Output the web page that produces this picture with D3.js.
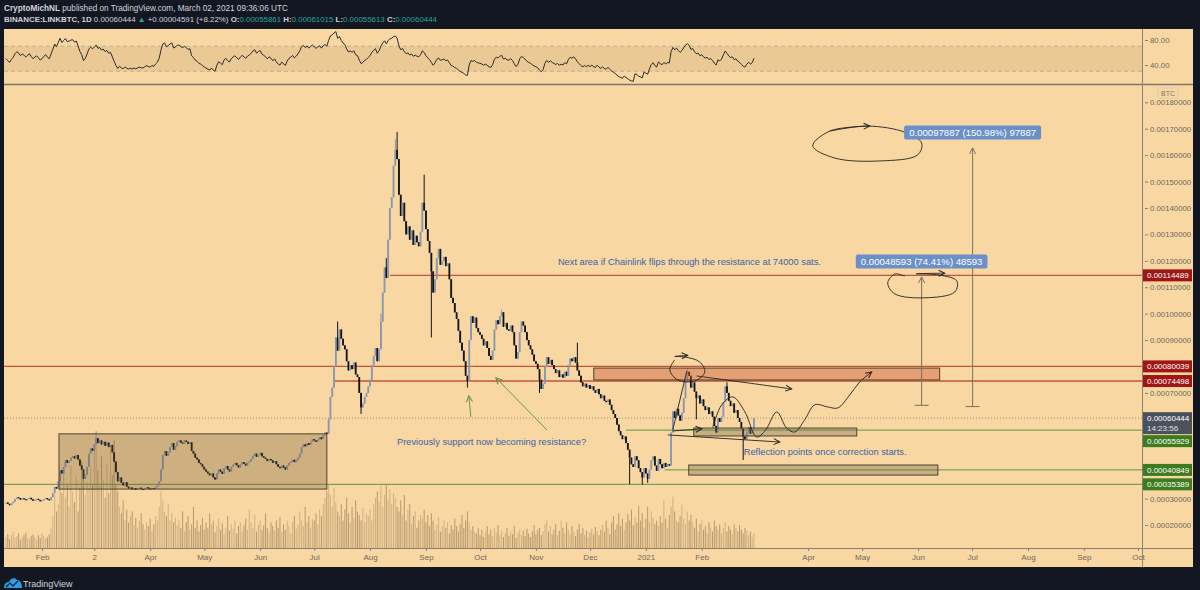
<!DOCTYPE html>
<html>
<head>
<meta charset="utf-8">
<script src="https://cdn.jsdelivr.net/npm/d3@7"></script>
<style>
body { margin: 0; background: #131722; }
svg { display: block; font-family: "Liberation Sans", Arial, sans-serif; }
</style>
</head>
<body>
<svg width="1200" height="590"></svg>
<script>
// LINKBTC daily, 2020-01-12 .. 2021-03-02, prices in k sats (1 = 0.00001 BTC)
var firstDay = "2020-01-12";
var lastDay = "2021-03-02";

var closes = [
  28.5, 28.0, 27.5, 28.2, 28.8, 29.8, 30.5, 30.2, 29.6, 30.1,
  29.8, 29.4, 29.9, 30.3, 29.7, 29.2, 29.6, 29.9, 29.5, 29.0, 29.3, 29.8, 30.2, 29.7, 29.4,
  30.5, 32.0, 34.4, 33.8, 36.5,
  40.8, 39.5, 42.0,
  44.6, 43.5, 44.2, 45.5,
  46.0, 45.2, 46.5, 44.8, 42.5,
  41.0, 37.5, 39.0, 42.0,
  47.0, 49.0, 48.0, 50.5,
  52.9, 51.0, 52.0, 50.5, 51.5, 50.0, 51.2, 49.5, 50.3,
  47.5, 44.0, 40.0, 36.5,
  38.0, 36.0, 35.0, 36.2,
  34.5, 33.8, 34.2, 33.5, 33.9, 33.3, 33.7, 34.1, 33.6, 33.4, 33.9, 34.3, 33.8, 33.5, 34.0, 33.6, 34.4, 35.0,
  36.5, 41.0, 46.5, 48.0, 46.2, 47.5, 49.5,
  51.0, 48.5, 49.8,
  51.5, 52.0, 51.2, 50.8, 52.0, 51.5, 50.7, 51.3,
  48.0, 47.0, 45.5, 44.8, 43.5, 43.0,
  42.0, 41.0, 40.2, 39.5, 38.8, 39.5, 38.0, 37.2,
  39.5, 41.0, 40.2, 39.3, 41.5, 42.3, 41.0, 40.3,
  42.0, 42.8, 43.5, 42.6, 41.8, 42.9, 43.8, 43.2, 42.5, 43.6, 44.0,
  45.0, 46.2, 47.0, 45.8, 46.5, 47.3, 46.0, 45.5, 45.0,
  44.2, 45.0, 44.5, 43.5, 44.2, 43.0, 42.0, 41.5, 42.5, 41.8, 41.0,
  42.5, 43.5, 44.0, 44.7, 43.8, 44.5, 45.5, 47.0,
  49.5, 50.5, 49.8, 51.0, 50.3, 51.5, 52.5, 52.0,
  51.5, 52.3, 53.2, 52.5, 54.0, 55.0, 54.5,
  60.0, 68.5, 72.0, 80.0, 91.0, 86.0,
  94.0, 90.5, 88.0,
  86.5, 82.0, 78.5, 80.5, 79.0,
  81.5, 77.0, 76.0, 70.0, 64.5,
  66.0, 68.5, 70.0, 72.5, 75.0,
  80.5, 84.0, 87.0, 82.0, 86.5,
  97.0, 108.0, 117.5, 113.5,
  128.0, 140.0, 144.0,
  156.0, 162.0, 158.5,
  145.0, 137.0, 142.0,
  135.0, 130.0, 133.0,
  128.0, 131.5, 126.0, 129.5, 127.0, 125.5, 131.0,
  142.0, 139.0,
  132.0, 127.5, 123.0,
  116.0, 108.0, 113.0,
  121.0, 124.5, 118.5,
  120.0, 121.5, 118.0, 119.0,
  113.0, 106.0,
  104.0, 100.5, 98.0,
  93.5, 89.0, 86.0,
  82.0, 76.5, 74.5,
  90.0, 99.0, 96.5,
  98.5, 94.5, 93.0,
  92.0, 90.5, 88.0, 89.5, 87.0,
  84.0, 82.5, 86.0,
  94.0, 97.5, 96.0, 99.0, 100.5,
  95.0, 96.5, 94.0, 93.5, 95.5, 93.0,
  88.0, 83.0, 85.5,
  93.0, 97.0, 95.5, 93.0,
  90.0, 88.0, 86.5, 84.5, 82.0, 81.0,
  79.0, 75.0, 71.5, 73.5, 80.0,
  83.5, 81.0, 82.5, 80.5,
  79.0, 77.5, 78.5, 76.0, 77.0, 75.8, 78.0, 76.5,
  80.5, 83.0, 82.0, 83.5, 81.5, 78.5,
  76.5, 74.0, 72.5, 73.5, 72.0,
  73.0, 71.5, 72.5, 71.0, 70.0, 71.5,
  69.5, 68.0, 69.0, 67.0, 66.5, 67.5, 65.5,
  63.5, 62.0, 60.5, 58.0, 55.5,
  54.0, 52.5, 53.5, 51.0, 48.5, 45.5,
  43.0, 42.0, 46.0, 44.5,
  41.5, 40.0, 38.0, 41.5, 39.5, 37.5,
  41.0, 44.5, 46.0, 42.5, 40.5, 45.0, 43.0,
  41.5, 43.5, 42.0, 43.0, 42.5, 55.0,
  63.0, 60.5, 64.0, 61.5, 59.5, 62.5,
  68.0, 74.5, 78.0,
  76.5, 72.0, 74.0, 70.5, 68.0,
  69.0, 66.0, 67.5, 65.0, 63.5, 64.5, 62.0, 63.0, 61.0,
  57.5, 55.0, 60.5,
  59.0, 61.0, 66.5, 72.5, 70.0,
  67.0, 65.0, 66.0, 62.5, 63.5, 60.5, 59.0,
  56.5, 53.5, 52.5, 55.0,
  57.0, 54.5, 55.861, 60.444
];

// notable wicks [day index, price]
var wickHigh = [[50, 55.5], [184, 97], [208, 100], [211, 121], [216, 166], [217, 168.8], [221, 141],
  [232, 152.6], [275, 101.5], [317, 89], [378, 79.5], [400, 74]];
var wickLow = [[197, 62], [236, 91], [256, 72], [296, 70], [346, 35.4], [353, 35.2], [356, 36],
  [383, 60], [409, 44.6]];

var volumes = [
  12, 15, 10, 14, 18, 11, 13, 16, 9, 12, 14, 17, 11, 10, 13, 15, 12, 9, 14, 11, 16, 13, 10, 12, 15,
  22, 35, 58, 40, 48,
  75, 60, 85, 55, 70, 45, 90, 62, 50, 78, 40, 66, 95, 80, 58, 72,
  65, 88, 70, 110, 120, 85, 68, 100, 75, 55, 92, 60, 112, 80, 118, 70, 62,
  45, 38, 52, 30, 42, 28, 35, 40, 25, 33, 22, 30, 38, 26, 20, 28, 24, 32, 18, 26, 35, 30,
  45, 62, 52, 40, 35, 48, 30, 38, 28, 33,
  25, 30, 22, 40, 18, 28, 35, 20, 26, 45, 22, 30, 18, 25, 33, 20,
  28, 22, 38, 26, 30, 17, 24, 32, 20, 27, 15, 22, 35, 19, 26, 21, 30, 16, 24, 28,
  18, 25, 32, 20, 42, 28, 22, 36, 18, 26, 30, 20, 25, 38, 22, 17, 28, 24, 19, 30,
  22, 34, 18, 26, 20, 30, 24, 16, 28, 35, 21, 26, 40, 30, 24, 45, 28, 35, 22, 32,
  30, 38, 26, 42, 35, 48, 55, 62,
  70, 58, 45, 66, 50, 40, 35, 48, 30, 42, 55, 38, 28, 45, 33, 52, 40, 36, 30, 44, 28, 38, 35, 42, 30, 48, 55, 62, 50, 68, 45, 58,
  70, 52, 64, 48, 60, 55, 45, 40, 52, 36, 58, 30, 42, 48, 26, 35, 40, 22, 30, 36,
  32, 42, 28, 36, 24, 38, 30, 20, 26, 34, 18, 24, 30, 22, 28, 16, 25, 20, 32, 24, 18, 26, 36, 22, 30, 40, 28, 20, 24, 18,
  16, 22, 14, 20, 12, 18, 24, 15, 20, 13, 22, 17, 25, 14, 19, 12, 16, 22, 13, 18, 15, 24, 11, 17, 20, 14, 19, 13, 21, 16, 12, 18, 25, 15, 20, 22, 14, 18, 26, 30,
  18, 24, 15, 20, 26, 14, 19, 30, 22, 16, 28, 20, 15, 24, 18, 13, 20, 26, 16, 22, 14, 19, 12, 17, 21, 15, 23, 18, 14, 20,
  25, 18, 30, 22, 15, 28, 35, 20, 26, 38, 24, 32, 20, 28, 37, 30, 42, 25, 34, 28, 46, 30, 38, 22, 32, 45, 28, 40, 33, 26,
  30, 24, 35, 28, 52, 32, 22, 36, 45, 56, 40, 30, 28, 35, 48, 32, 26, 40, 30, 36,
  28, 22, 32, 18, 26, 30, 20, 24, 16, 28, 22, 18, 30, 24, 20, 26, 16, 22, 28, 18, 24, 20, 15, 26, 22, 18, 25, 20, 16, 22, 19, 14, 18, 12, 16
];

var priceTicks = [0.0002, 0.0003, 0.0004, 0.0005, 0.0006, 0.0007, 0.0008, 0.0009, 0.0010,
  0.0011, 0.0012, 0.0013, 0.0014, 0.0015, 0.0016, 0.0017, 0.0018];
var timeTicks = ["2020-02-01", "2020-03-01", "2020-04-01", "2020-05-01", "2020-06-01", "2020-07-01",
  "2020-08-01", "2020-09-01", "2020-10-01", "2020-11-01", "2020-12-01", "2021-01-01", "2021-02-01",
  "2021-04-01", "2021-05-01", "2021-06-01", "2021-07-01", "2021-08-01", "2021-09-01", "2021-10-01"];
var timeLabels = ["Feb", "2", "Apr", "May", "Jun", "Jul", "Aug", "Sep", "Oct", "Nov", "Dec", "2021", "Feb",
  "Apr", "May", "Jun", "Jul", "Aug", "Sep", "Oct"];
var rsiTicks = [40, 80];

// levels drawn on the chart: price, first day index, kind
var hLevels = [[114.489, 213, "red"], [80.039, -5, "red"], [74.498, 182.5, "red"],
  [55.929, 344, "green"], [40.849, 365.5, "green"], [35.389, -5, "green"]];
var priceTags = [[114.489, "red"], [80.039, "red"], [74.498, "red"], [60.444, "last"],
  [55.929, "green"], [40.849, "green"], [35.389, "green"]];
// zones: day from, day to, price high, price low, kind
var zones = [[29.4, 178, 54.5, 33.6, "brown"], [326.1, 518, 79.4, 74.9, "salmon"],
  [381.6, 472, 56.7, 53.7, "olive"], [378.8, 517, 42.7, 38.9, "olive"]];
// price range measures: day, from, to, label
var measures = [[536.3, 64.834, 162.721, "0.00097887 (150.98%) 97887"],
  [508, 65.305, 113.898, "0.00048593 (74.41%) 48593"]];
var notes = [[306.2, 118.4, "Next area if Chainlink flips through the resistance at 74000 sats."],
  [216.9, 50.3, "Previously support now becoming resistance?"],
  [409.3, 46.5, "Reflection points once correction starts."]];
// hand drawn strokes, [day, price] points
var sketches = [
  {arrow: true, pts: [[457, 169.1], [478.1, 171.0], [498.6, 168.7], [508, 164.6], [505.8, 160.1], [484.7, 157.8], [459.8, 158.9], [447.6, 163.5], [457, 169.1], [479.2, 171.0]]},
  {arrow: true, pts: [[498.6, 114.2], [493.1, 115.0], [489.2, 111.6], [493.1, 107.5], [509.7, 106.0], [526.4, 108.2], [527.5, 112.4], [518, 114.6], [505, 115.1], [520.8, 115.3]]},
  {arrow: true, pts: [[371, 82.5], [368.3, 78.7], [372.7, 74.9], [382.1, 74.5], [387.7, 77.9], [384.9, 81.7], [376.6, 83.6], [371, 83.8], [378.2, 84.2]]},
  {arrow: true, pts: [[383.2, 76.4], [407.1, 74.2], [435.9, 71.5]]},
  {arrow: true, pts: [[392.1, 56.9], [397.1, 65.5], [403.2, 68.5], [409.9, 62.9], [416.5, 53.3], [421.5, 56.0], [427.6, 62.8], [433.1, 56.7], [437.6, 55.2], [443.1, 59.8], [448.7, 65.5], [455.9, 64.7], [461.5, 64.3], [468.1, 69.2], [473.6, 74.1], [480.3, 77.9]]},
  {arrow: true, pts: [[367.2, 54.1], [429.3, 51.4]]},
  {arrow: true, pts: [[369.9, 55.6], [386, 56.4]]},
  {arrow: false, pts: [[369.9, 55.9], [377.7, 78.2]]}
];
var greenArrows = [[[257.9, 60.9], [256.8, 68.9]], [[300.1, 56.0], [271.8, 75.7]]];

var svg = d3.select("svg");
var paneL = 4, paneR = 1193, axisX = 1142;
var rsiTop = 29, rsiBot = 84, mainTop = 85, mainBot = 548, timeBot = 567;
var bg = "#f8d7a2";

svg.append("rect").attr("width", 1200).attr("height", 590).attr("fill", "#131722");
svg.append("rect").attr("x", paneL).attr("y", rsiTop).attr("width", paneR - paneL)
  .attr("height", timeBot - rsiTop).attr("fill", bg);

var parseDay = d3.utcParse("%Y-%m-%d");
var day0 = parseDay(firstDay);
var x = d3.scaleUtc().domain([day0, parseDay(lastDay)]).range([6, 754]);
var nDays = d3.utcDay.count(day0, parseDay(lastDay));
var xi = function(i) { return x(day0) + (x(parseDay(lastDay)) - x(day0)) * i / nDays; };
var y = d3.scaleLinear().domain([0.0002, 0.0018]).range([525, 102.3]);
var yk = function(v) { return y(v * 1e-5); };
var yVol = d3.scaleLinear().domain([0, 140]).range([mainBot, 420]);
var yRsi = d3.scaleLinear().domain([40, 80]).range([65, 40]);

var candles = closes.map(function(c, i) {
  var o = i ? closes[i - 1] : c;
  return {date: d3.utcDay.offset(day0, i), o: o, c: c, h: Math.max(o, c), l: Math.min(o, c), v: volumes[i]};
});
wickHigh.forEach(function(w) { if (candles[w[0]]) candles[w[0]].h = w[1]; });
wickLow.forEach(function(w) { if (candles[w[0]]) candles[w[0]].l = w[1]; });

// RSI 14 (Wilder)
var rsi = [];
(function() {
  var ag = 0.3, al = 0.3;
  closes.forEach(function(c, i) {
    if (i) {
      var ch = c - closes[i - 1];
      ag = (ag * 13 + Math.max(ch, 0)) / 14;
      al = (al * 13 + Math.max(-ch, 0)) / 14;
    }
    rsi.push(100 - 100 / (1 + ag / al));
  });
})();

var defs = svg.append("defs");
defs.append("clipPath").attr("id", "mainClip").append("rect")
  .attr("x", paneL).attr("y", mainTop).attr("width", axisX - paneL).attr("height", mainBot - mainTop);
defs.append("clipPath").attr("id", "rsiClip").append("rect")
  .attr("x", paneL).attr("y", rsiTop).attr("width", axisX - paneL).attr("height", rsiBot - rsiTop);
function marker(id, color) {
  defs.append("marker").attr("id", id).attr("viewBox", "0 0 8 8").attr("refX", 7).attr("refY", 4)
    .attr("markerWidth", 8).attr("markerHeight", 8).attr("markerUnits", "userSpaceOnUse").attr("orient", "auto")
    .append("path").attr("d", "M1,1 L7,4 L1,7").attr("fill", "none").attr("stroke", color).attr("stroke-width", 1);
}
marker("arrK", "#222");
marker("arrG", "#5f8f3a");
marker("arrM", "#7d6f60");

// RSI pane
var rsiG = svg.append("g").attr("clip-path", "url(#rsiClip)");
rsiG.append("rect").attr("x", paneL).attr("width", axisX - paneL)
  .attr("y", yRsi(70)).attr("height", yRsi(30) - yRsi(70)).attr("fill", "rgba(150,110,60,0.13)");
[70, 30].forEach(function(v) {
  rsiG.append("line").attr("x1", paneL).attr("x2", axisX).attr("y1", yRsi(v)).attr("y2", yRsi(v))
    .attr("stroke", "#bfae94").attr("stroke-dasharray", "4,3");
});
rsiG.append("path").datum(rsi)
  .attr("d", d3.line().x(function(d, i) { return x(candles[i].date); }).y(function(d) { return yRsi(d); }))
  .attr("fill", "none").attr("stroke", "#2b2b2b").attr("stroke-width", 1);
svg.append("line").attr("x1", paneL).attr("x2", paneR).attr("y1", 84.5).attr("y2", 84.5)
  .attr("stroke", "#7d776d").attr("stroke-width", 1.3);

// main pane
var main = svg.append("g").attr("clip-path", "url(#mainClip)");
main.append("g").selectAll("line").data(candles).enter().append("line")
  .attr("x1", function(d) { return x(d.date); }).attr("x2", function(d) { return x(d.date); })
  .attr("y1", mainBot).attr("y2", function(d) { return yVol(d.v); })
  .attr("stroke", function(d) { return d.c >= d.o ? "rgba(170,140,100,0.5)" : "rgba(130,100,65,0.55)"; })
  .attr("stroke-width", 1);

main.append("line").attr("x1", paneL).attr("x2", axisX).attr("y1", yk(60.444)).attr("y2", yk(60.444))
  .attr("stroke", "#9a8f80").attr("stroke-dasharray", "1,2");

main.append("g").selectAll("line").data(hLevels).enter().append("line")
  .attr("x1", function(d) { return Math.max(paneL, xi(d[1])); }).attr("x2", axisX)
  .attr("y1", function(d) { return yk(d[0]); }).attr("y2", function(d) { return yk(d[0]); })
  .attr("stroke", function(d) { return d[2] == "red" ? "#c4553a" : "#7fa052"; })
  .attr("stroke-width", function(d) { return d[2] == "red" ? 1.3 : 1.1; });

var upCol = "#8896af", downCol = "#141414";
var cg = main.append("g");
cg.selectAll("line.w").data(candles).enter().append("line").attr("class", "w")
  .attr("x1", function(d) { return x(d.date); }).attr("x2", function(d) { return x(d.date); })
  .attr("y1", function(d) { return yk(d.h); }).attr("y2", function(d) { return yk(d.l); })
  .attr("stroke", function(d) { return d.c >= d.o ? upCol : downCol; }).attr("stroke-width", 1);
cg.selectAll("rect").data(candles).enter().append("rect")
  .attr("x", function(d) { return x(d.date) - 0.9; }).attr("width", 1.8)
  .attr("y", function(d) { return yk(Math.max(d.o, d.c)); })
  .attr("height", function(d) { return Math.max(1, yk(Math.min(d.o, d.c)) - yk(Math.max(d.o, d.c))); })
  .attr("fill", function(d) { return d.c >= d.o ? upCol : downCol; });

var zoneFill = {brown: "rgba(110,85,50,0.30)", salmon: "rgba(205,90,55,0.45)", olive: "rgba(120,110,80,0.38)"};
main.append("g").selectAll("rect").data(zones).enter().append("rect")
  .attr("x", function(d) { return xi(d[0]); }).attr("width", function(d) { return xi(d[1]) - xi(d[0]); })
  .attr("y", function(d) { return yk(d[2]); }).attr("height", function(d) { return yk(d[3]) - yk(d[2]); })
  .attr("fill", function(d) { return zoneFill[d[4]]; })
  .attr("stroke", "#4d4232").attr("stroke-width", 1);

// measures
measures.forEach(function(m) {
  var mx = xi(m[0]);
  main.append("line").attr("x1", mx).attr("x2", mx).attr("y1", yk(m[1])).attr("y2", yk(m[2]))
    .attr("stroke", "#7d6f60").attr("marker-end", "url(#arrM)");
  main.append("line").attr("x1", mx - 7).attr("x2", mx + 7).attr("y1", yk(m[1])).attr("y2", yk(m[1]))
    .attr("stroke", "#7d6f60");
});

var curve = d3.line().x(function(d) { return xi(d[0]); }).y(function(d) { return yk(d[1]); })
  .curve(d3.curveCatmullRom.alpha(0.5));
main.append("g").selectAll("path").data(sketches).enter().append("path")
  .attr("d", function(d) { return curve(d.pts); })
  .attr("fill", "none").attr("stroke", "#222").attr("stroke-width", 0.9)
  .attr("marker-end", function(d) { return d.arrow ? "url(#arrK)" : null; });
main.append("g").selectAll("path").data(greenArrows).enter().append("path")
  .attr("d", function(d) { return d3.line().x(function(p) { return xi(p[0]); }).y(function(p) { return yk(p[1]); })(d); })
  .attr("fill", "none").attr("stroke", "#5f8f3a").attr("stroke-width", 0.9).attr("marker-end", "url(#arrG)");

measures.forEach(function(m) {
  var mx = xi(m[0]);
  var t = main.append("text").attr("x", mx).attr("y", yk(m[2]) - 11.5).attr("text-anchor", "middle")
    .attr("font-size", 9.6).attr("fill", "#fff").text(m[3]);
  var bb = t.node().getBBox();
  main.insert("rect", "text").attr("x", bb.x - 5).attr("y", bb.y - 2).attr("width", bb.width + 10)
    .attr("height", bb.height + 3).attr("rx", 2).attr("fill", "#6b8fc9");
});

main.append("g").selectAll("text").data(notes).enter().append("text")
  .attr("x", function(d) { return xi(d[0]); }).attr("y", function(d) { return yk(d[1]); })
  .attr("font-size", 9.3).attr("fill", "#3a63a8").text(function(d) { return d[2]; });

// time axis
svg.append("line").attr("x1", paneL).attr("x2", paneR).attr("y1", mainBot + 0.5).attr("y2", mainBot + 0.5)
  .attr("stroke", "#8a8174");
var xAxis = d3.axisBottom(x).tickValues(timeTicks.map(parseDay))
  .tickFormat(function(d, i) { return timeLabels[i]; }).tickSize(3).tickPadding(3);
var gx = svg.append("g").attr("transform", "translate(0," + mainBot + ")").call(xAxis);
gx.select(".domain").remove();
gx.selectAll("line").attr("stroke", "#8a8174");
gx.selectAll("text").attr("fill", "#70695d").attr("font-size", 8).attr("font-family", "Liberation Sans, Arial");

// price tags positions (pushed apart when they collide)
var tagColor = {red: "#a01616", green: "#3e7b1f", last: "#4c525d"};
var lastBottom = -100;
var tagBoxes = priceTags.map(function(t) {
  var cy = yk(t[0]);
  var h = t[1] == "last" ? 22 : 12;
  var top = cy - 6;
  if (top < lastBottom + 1) { top = lastBottom + 1; cy = top + 6; }
  lastBottom = top + h;
  return {v: t[0], kind: t[1], cy: cy, top: top, h: h};
});

// price axis
svg.append("line").attr("x1", axisX + 0.5).attr("x2", axisX + 0.5).attr("y1", rsiTop).attr("y2", timeBot)
  .attr("stroke", "#8a8174");
var yAxis = d3.axisRight(y).tickValues(priceTicks.filter(function(v) {
    var ty = y(v);
    return !tagBoxes.some(function(b) { return ty > b.top - 5 && ty < b.top + b.h + 5; });
  })).tickFormat(d3.format(".8f")).tickSize(3).tickPadding(2);
var gy = svg.append("g").attr("transform", "translate(" + (axisX + 3) + ",0)").call(yAxis);
gy.select(".domain").remove();
gy.selectAll("line").attr("stroke", "#8a8174");
gy.selectAll("text").attr("fill", "#6e685e").attr("font-size", 7.8).attr("font-family", "Liberation Sans, Arial");

var rAxis = d3.axisRight(yRsi).tickValues(rsiTicks).tickFormat(d3.format(".2f")).tickSize(3).tickPadding(2);
var gr = svg.append("g").attr("transform", "translate(" + (axisX + 3) + ",0)").call(rAxis);
gr.select(".domain").remove();
gr.selectAll("line").attr("stroke", "#8a8174");
gr.selectAll("text").attr("fill", "#6e685e").attr("font-size", 7.8).attr("font-family", "Liberation Sans, Arial");

svg.append("rect").attr("x", 1158).attr("y", 88).attr("width", 20).attr("height", 10).attr("rx", 2)
  .attr("fill", bg).attr("stroke", "#d9cbb5");
svg.append("text").attr("x", 1168).attr("y", 96).attr("text-anchor", "middle").attr("font-size", 7)
  .attr("fill", "#7a7266").text("BTC");

tagBoxes.forEach(function(b) {
  svg.append("rect").attr("x", axisX + 1).attr("y", b.top).attr("width", 49).attr("height", b.h)
    .attr("fill", tagColor[b.kind]);
  svg.append("text").attr("x", axisX + 5).attr("y", b.cy + 3).attr("font-size", 8).attr("fill", "#fff")
    .text(d3.format(".8f")(b.v * 1e-5));
  if (b.kind == "last") {
    svg.append("text").attr("x", axisX + 5).attr("y", b.cy + 13).attr("font-size", 8).attr("fill", "#e0e0e0")
      .text("14:23:56");
  }
});

// header
var hdr = svg.append("g").attr("fill", "#d1d4dc");
var l1 = hdr.append("text").attr("x", 4).attr("y", 11).attr("font-size", 8.2);
l1.append("tspan").attr("font-weight", "bold").text("CryptoMichNL");
l1.append("tspan").text(" published on TradingView.com, March 02, 2021 09:36:06 UTC");
var l2 = hdr.append("text").attr("x", 4).attr("y", 22).attr("font-size", 7.9);
var teal = "#26a69a";
[["BINANCE:LINKBTC, 1D", "b"], [" 0.00060444 ", ""], ["\u25B2", "t"], [" +0.00004591 (+8.22%) ", ""],
 ["O:", "b"], ["0.00055861", "t"], [" H:", "b"], ["0.00061015", "t"], [" L:", "b"], ["0.00055613", "t"],
 [" C:", "b"], ["0.00060444", "t"]].forEach(function(p) {
  var s = l2.append("tspan").text(p[0]);
  if (p[1] == "b") s.attr("font-weight", "bold");
  if (p[1] == "t") s.attr("fill", teal);
});

// footer logo
var logo = svg.append("g");
logo.append("path").attr("d", "M4,588 C4,584 6,582 9,582 C10,578 15,577 17,580 C20,580 22,583 22,588 Z")
  .attr("fill", "#2e9be6");
logo.append("path").attr("d", "M6,587 L10,583 L13,586 L18,581").attr("fill", "none")
  .attr("stroke", "#131722").attr("stroke-width", 1.2);
svg.append("text").attr("x", 23).attr("y", 587).attr("font-size", 9).attr("fill", "#d1d4dc").text("TradingView");
</script>
</body>
</html>
